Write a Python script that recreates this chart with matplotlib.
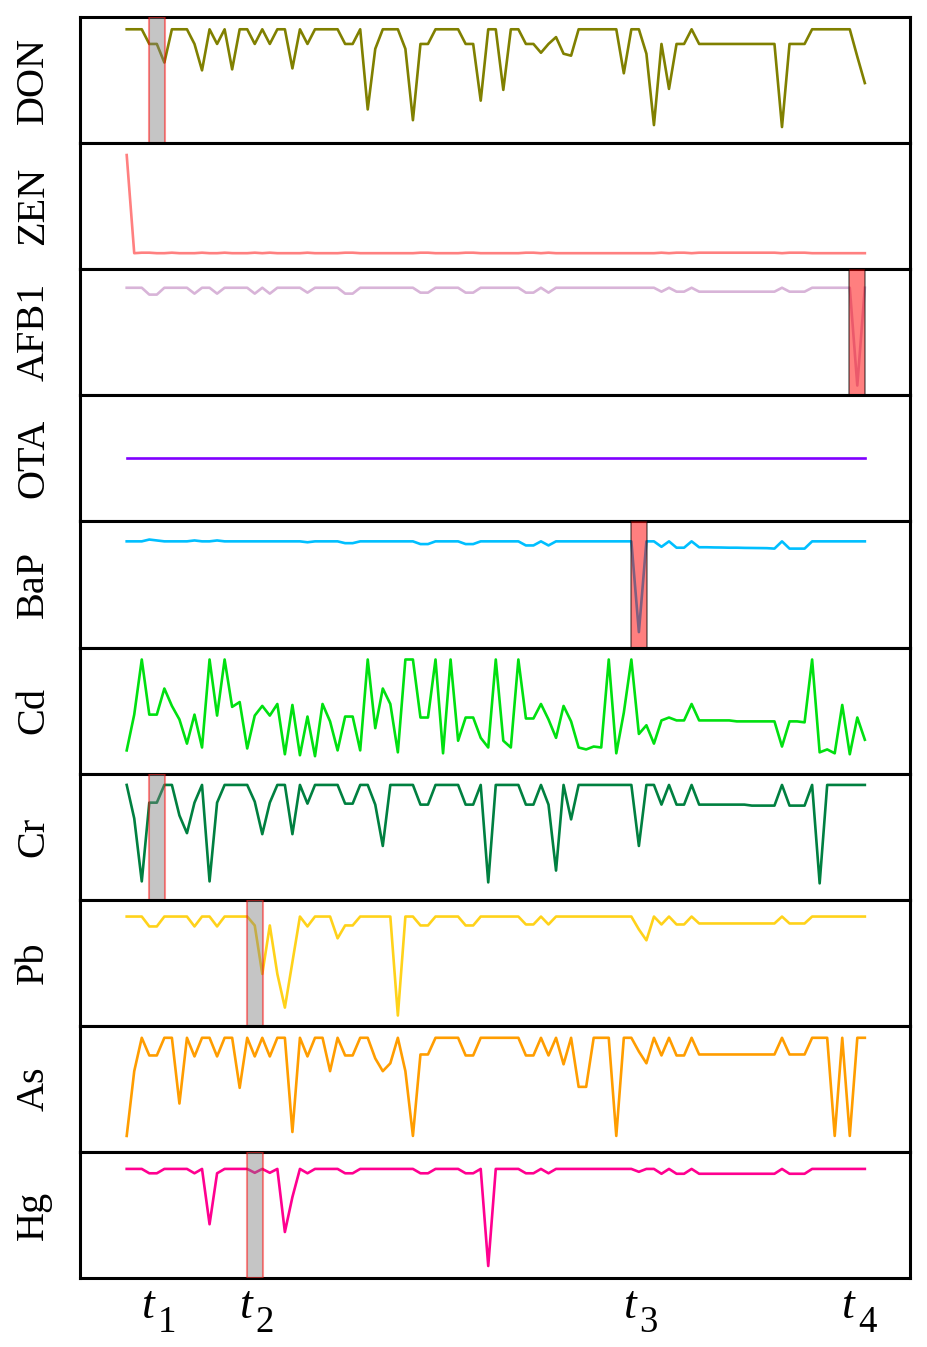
import matplotlib
matplotlib.use('Agg')
import matplotlib.pyplot as plt
import numpy as np

plt.rcParams['font.family'] = ['Liberation Serif', 'DejaVu Serif']

# normalised signal of each variable, one value per time step (99 steps)
don = [1.0, 1.0, 1.0, 0.85, 0.85, 0.66, 1.0, 1.0, 1.0, 0.85,
       0.58, 1.0, 0.85, 1.0, 0.59, 1.0, 1.0, 0.85, 1.0, 0.85,
       1.0, 1.0, 0.60, 1.0, 0.85, 1.0, 1.0, 1.0, 1.0, 0.85,
       0.85, 1.0, 0.18, 0.80, 1.0, 1.0, 1.0, 0.80, 0.07, 0.85,
       0.85, 1.0, 1.0, 1.0, 1.0, 0.85, 0.85, 0.27, 1.0, 1.0,
       0.38, 1.0, 1.0, 0.85, 0.85, 0.76, 0.85, 0.92, 0.75, 0.73,
       1.0, 1.0, 1.0, 1.0, 1.0, 1.0, 0.55, 1.0, 1.0, 0.75,
       0.02, 0.85, 0.39, 0.85, 0.85, 1.0, 0.85, 0.85, 0.85, 0.85,
       0.85, 0.85, 0.85, 0.85, 0.85, 0.85, 0.85, 0.0, 0.85, 0.85,
       0.85, 1.0, 1.0, 1.0, 1.0, 1.0, 1.0, 0.72, 0.45]

zen = [1.0, 0.0, 0.005, 0.005, 0.0, 0.0, 0.005, 0.0, 0.0, 0.0,
       0.005, 0.0, 0.0, 0.005, 0.0, 0.0, 0.0, 0.005, 0.0, 0.005,
       0.0, 0.0, 0.0, 0.0, 0.005, 0.0, 0.0, 0.0, 0.0, 0.005,
       0.005, 0.0, 0.0, 0.0, 0.0, 0.0, 0.0, 0.0, 0.0, 0.005,
       0.005, 0.0, 0.0, 0.0, 0.0, 0.005, 0.005, 0.0, 0.0, 0.0,
       0.0, 0.0, 0.0, 0.005, 0.005, 0.0, 0.005, 0.0, 0.0, 0.0,
       0.0, 0.0, 0.0, 0.0, 0.0, 0.0, 0.0, 0.0, 0.0, 0.0,
       0.0, 0.005, 0.0, 0.005, 0.005, 0.0, 0.005, 0.005, 0.005, 0.005,
       0.005, 0.005, 0.005, 0.005, 0.005, 0.005, 0.005, 0.0, 0.005, 0.005,
       0.005, 0.0, 0.0, 0.0, 0.0, 0.0, 0.0, 0.0, 0.0]

afb1 = [1.0, 1.0, 1.0, 0.93, 0.93, 1.0, 1.0, 1.0, 1.0, 0.94,
        1.0, 1.0, 0.94, 1.0, 1.0, 1.0, 1.0, 0.94, 1.0, 0.94,
        1.0, 1.0, 1.0, 1.0, 0.95, 1.0, 1.0, 1.0, 1.0, 0.94,
        0.94, 1.0, 1.0, 1.0, 1.0, 1.0, 1.0, 1.0, 1.0, 0.95,
        0.95, 1.0, 1.0, 1.0, 1.0, 0.95, 0.95, 1.0, 1.0, 1.0,
        1.0, 1.0, 1.0, 0.95, 0.95, 1.0, 0.95, 1.0, 1.0, 1.0,
        1.0, 1.0, 1.0, 1.0, 1.0, 1.0, 1.0, 1.0, 1.0, 1.0,
        1.0, 0.96, 1.0, 0.96, 0.96, 1.0, 0.96, 0.96, 0.96, 0.96,
        0.96, 0.96, 0.96, 0.96, 0.96, 0.96, 0.96, 1.0, 0.96, 0.96,
        0.96, 1.0, 1.0, 1.0, 1.0, 1.0, 1.0, 0.0, 1.0]

ota = [0.5, 0.5, 0.5, 0.5, 0.5, 0.5, 0.5, 0.5, 0.5, 0.5,
       0.5, 0.5, 0.5, 0.5, 0.5, 0.5, 0.5, 0.5, 0.5, 0.5,
       0.5, 0.5, 0.5, 0.5, 0.5, 0.5, 0.5, 0.5, 0.5, 0.5,
       0.5, 0.5, 0.5, 0.5, 0.5, 0.5, 0.5, 0.5, 0.5, 0.5,
       0.5, 0.5, 0.5, 0.5, 0.5, 0.5, 0.5, 0.5, 0.5, 0.5,
       0.5, 0.5, 0.5, 0.5, 0.5, 0.5, 0.5, 0.5, 0.5, 0.5,
       0.5, 0.5, 0.5, 0.5, 0.5, 0.5, 0.5, 0.5, 0.5, 0.5,
       0.5, 0.5, 0.5, 0.5, 0.5, 0.5, 0.5, 0.5, 0.5, 0.5,
       0.5, 0.5, 0.5, 0.5, 0.5, 0.5, 0.5, 0.5, 0.5, 0.5,
       0.5, 0.5, 0.5, 0.5, 0.5, 0.5, 0.5, 0.5, 0.5]

bap = [1.0, 1.0, 1.0, 1.02, 1.01, 1.0, 1.0, 1.0, 1.0, 1.01,
       1.0, 1.0, 1.01, 1.0, 1.0, 1.0, 1.0, 1.0, 1.0, 1.0,
       1.0, 1.0, 1.0, 1.0, 0.99, 1.0, 1.0, 1.0, 1.0, 0.98,
       0.98, 1.0, 1.0, 1.0, 1.0, 1.0, 1.0, 1.0, 1.0, 0.97,
       0.97, 1.0, 1.0, 1.0, 1.0, 0.97, 0.97, 1.0, 1.0, 1.0,
       1.0, 1.0, 1.0, 0.955, 0.955, 1.0, 0.955, 1.0, 1.0, 1.0,
       1.0, 1.0, 1.0, 1.0, 1.0, 1.0, 1.0, 1.0, 0.0, 1.0,
       1.0, 0.94, 1.0, 0.93, 0.93, 1.0, 0.935, 0.935, 0.933, 0.932,
       0.93, 0.93, 0.928, 0.927, 0.926, 0.925, 0.92, 1.0, 0.92, 0.92,
       0.92, 1.0, 1.0, 1.0, 1.0, 1.0, 1.0, 1.0, 1.0]

cd = [0.06, 0.43, 1.00, 0.43, 0.43, 0.70, 0.52, 0.38, 0.13, 0.43,
      0.09, 1.00, 0.42, 1.00, 0.51, 0.56, 0.08, 0.42, 0.52, 0.42,
      0.54, 0.02, 0.53, 0.01, 0.41, 0.00, 0.54, 0.36, 0.06, 0.41,
      0.41, 0.06, 1.00, 0.29, 0.70, 0.54, 0.04, 1.00, 1.00, 0.40,
      0.40, 1.00, 0.03, 1.00, 0.16, 0.40, 0.40, 0.19, 0.09, 1.00,
      0.16, 0.09, 1.00, 0.39, 0.39, 0.54, 0.38, 0.19, 0.52, 0.36,
      0.09, 0.07, 0.10, 0.09, 1.00, 0.03, 0.45, 1.00, 0.23, 0.32,
      0.13, 0.37, 0.40, 0.37, 0.37, 0.54, 0.37, 0.37, 0.37, 0.37,
      0.37, 0.36, 0.36, 0.36, 0.36, 0.36, 0.36, 0.10, 0.36, 0.36,
      0.35, 1.00, 0.04, 0.07, 0.03, 0.53, 0.02, 0.40, 0.17]

cr = [1.0, 0.66, 0.02, 0.82, 0.82, 1.0, 1.0, 0.69, 0.51, 0.82,
      1.0, 0.02, 0.82, 1.0, 1.0, 1.0, 1.0, 0.83, 0.50, 0.82,
      1.0, 1.0, 0.50, 1.0, 0.81, 1.0, 1.0, 1.0, 1.0, 0.81,
      0.81, 1.0, 1.0, 0.80, 0.38, 1.0, 1.0, 1.0, 1.0, 0.80,
      0.80, 1.0, 1.0, 1.0, 1.0, 0.80, 0.80, 1.0, 0.01, 1.0,
      1.0, 1.0, 1.0, 0.80, 0.80, 1.0, 0.80, 0.13, 1.0, 0.65,
      1.0, 1.0, 1.0, 1.0, 1.0, 1.0, 1.0, 1.0, 0.38, 1.0,
      1.0, 0.80, 1.0, 0.80, 0.80, 1.0, 0.80, 0.80, 0.80, 0.80,
      0.80, 0.80, 0.80, 0.79, 0.79, 0.79, 0.79, 1.0, 0.79, 0.79,
      0.79, 1.0, 0.0, 1.0, 1.0, 1.0, 1.0, 1.0, 1.0]

pb = [1.0, 1.0, 1.0, 0.90, 0.90, 1.0, 1.0, 1.0, 1.0, 0.90,
      1.0, 1.0, 0.90, 1.0, 1.0, 1.0, 1.0, 0.91, 0.42, 0.91,
      0.42, 0.08, 0.54, 1.0, 0.90, 1.0, 1.0, 1.0, 0.78, 0.91,
      0.91, 1.0, 1.0, 1.0, 1.0, 1.0, 0.0, 1.0, 1.0, 0.91,
      0.91, 1.0, 1.0, 1.0, 1.0, 0.91, 0.91, 1.0, 1.0, 1.0,
      1.0, 1.0, 1.0, 0.92, 0.92, 1.0, 0.92, 1.0, 1.0, 1.0,
      1.0, 1.0, 1.0, 1.0, 1.0, 1.0, 1.0, 1.0, 0.87, 0.76,
      1.0, 0.92, 1.0, 0.92, 0.92, 1.0, 0.93, 0.93, 0.93, 0.93,
      0.93, 0.93, 0.93, 0.93, 0.93, 0.93, 0.93, 1.0, 0.93, 0.93,
      0.93, 1.0, 1.0, 1.0, 1.0, 1.0, 1.0, 1.0, 1.0]

as_ = [0.0, 0.66, 1.0, 0.82, 0.82, 1.0, 1.0, 0.33, 1.0, 0.81,
       1.0, 1.0, 0.81, 1.0, 1.0, 0.49, 1.0, 0.81, 1.0, 0.81,
       1.0, 1.0, 0.04, 1.0, 0.81, 1.0, 1.0, 0.66, 1.0, 0.82,
       0.82, 1.0, 1.0, 0.79, 0.66, 0.74, 1.0, 0.66, 0.0, 0.83,
       0.83, 1.0, 1.0, 1.0, 1.0, 0.82, 0.82, 1.0, 1.0, 1.0,
       1.0, 1.0, 1.0, 0.82, 0.82, 1.0, 0.82, 1.0, 0.73, 1.0,
       0.50, 0.50, 1.0, 1.0, 1.0, 0.0, 1.0, 1.0, 0.86, 0.74,
       1.0, 0.82, 1.0, 0.82, 0.82, 1.0, 0.83, 0.83, 0.83, 0.83,
       0.83, 0.83, 0.83, 0.83, 0.83, 0.83, 0.83, 1.0, 0.83, 0.83,
       0.83, 1.0, 1.0, 1.0, 0.0, 1.0, 0.0, 1.0, 1.0]

hg = [1.0, 1.0, 1.0, 0.955, 0.955, 1.0, 1.0, 1.0, 1.0, 0.955,
      1.0, 0.43, 0.955, 1.0, 1.0, 1.0, 1.0, 0.96, 1.0, 0.96,
      1.0, 0.35, 0.71, 1.0, 0.955, 1.0, 1.0, 1.0, 1.0, 0.955,
      0.955, 1.0, 1.0, 1.0, 1.0, 1.0, 1.0, 1.0, 1.0, 0.955,
      0.955, 1.0, 1.0, 1.0, 1.0, 0.955, 0.955, 1.0, 0.0, 1.0,
      1.0, 1.0, 1.0, 0.955, 0.955, 1.0, 0.955, 1.0, 1.0, 1.0,
      1.0, 1.0, 1.0, 1.0, 1.0, 1.0, 1.0, 1.0, 0.97, 1.0,
      1.0, 0.95, 1.0, 0.95, 0.95, 1.0, 0.95, 0.95, 0.95, 0.95,
      0.95, 0.95, 0.95, 0.95, 0.95, 0.95, 0.95, 1.0, 0.95, 0.95,
      0.95, 1.0, 1.0, 1.0, 1.0, 1.0, 1.0, 1.0, 1.0]

names = ['DON', 'ZEN', 'AFB1', 'OTA', 'BaP', 'Cd', 'Cr', 'Pb', 'As', 'Hg']
series = [don, zen, afb1, ota, bap, cd, cr, pb, as_, hg]
colors = ['#808000', '#ff8080', '#d8b4d8', '#8000ff', '#00bfff',
          '#00e010', '#008040', '#ffd21a', '#ff9d00', '#ff0090']
ylims = [(-0.164, 1.126), (-0.163, 1.122), (-0.10, 1.19), (0.0, 1.0),
         (-0.17, 1.22), (-0.18, 1.124), (-0.166, 1.115), (-0.104, 1.17),
         (-0.163, 1.122), (-0.124, 1.175)]

# anomaly times and which panels they are marked on
event_pos = [4, 17, 68, 97]
event_subs = ['1', '2', '3', '4']
gray_marks = {'DON': 0, 'Cr': 0, 'Pb': 1, 'Hg': 1}
red_marks = {'BaP': 2, 'AFB1': 3}

x = np.arange(len(don))

fig, axes = plt.subplots(len(names), 1, sharex=True, figsize=(9.27, 13.47), dpi=100)
fig.subplots_adjust(left=0.0863, right=0.9817, top=0.9874, bottom=0.0512, hspace=0)

for ax, name, vals, col, yl in zip(axes, names, series, colors, ylims):
    ax.plot(x, vals, color=col, lw=1.9)
    if name in gray_marks:
        c = event_pos[gray_marks[name]]
        ax.axvspan(c - 1.05, c + 1.05, facecolor='gray', edgecolor='red',
                   alpha=0.45, lw=1.5, zorder=3)
    if name in red_marks:
        c = event_pos[red_marks[name]]
        ax.axvspan(c - 1.05, c + 1.05, facecolor='red', edgecolor='black',
                   alpha=0.5, lw=1.2, zorder=3)
    ax.set_ylim(*yl)
    ax.set_xlim(-6.2, 104.0)
    ax.set_yticks([])
    ax.set_xticks([])
    ax.set_ylabel(name, fontsize=29, labelpad=20)
    for sp in ax.spines.values():
        sp.set_linewidth(2.2)

# t_k labels under the bottom panel: italic t with a large upright subscript
ax = axes[-1]
for pos, sub in zip(event_pos, event_subs):
    ax.annotate('t', xy=(pos, 0), xycoords=('data', 'axes fraction'),
                xytext=(-1.8, -28.8), textcoords='offset points',
                ha='right', va='baseline', fontsize=33, style='italic')
    ax.annotate(sub, xy=(pos, 0), xycoords=('data', 'axes fraction'),
                xytext=(0.5, -38.5), textcoords='offset points',
                ha='left', va='baseline', fontsize=26.5)

plt.savefig('out.png', dpi=100)
